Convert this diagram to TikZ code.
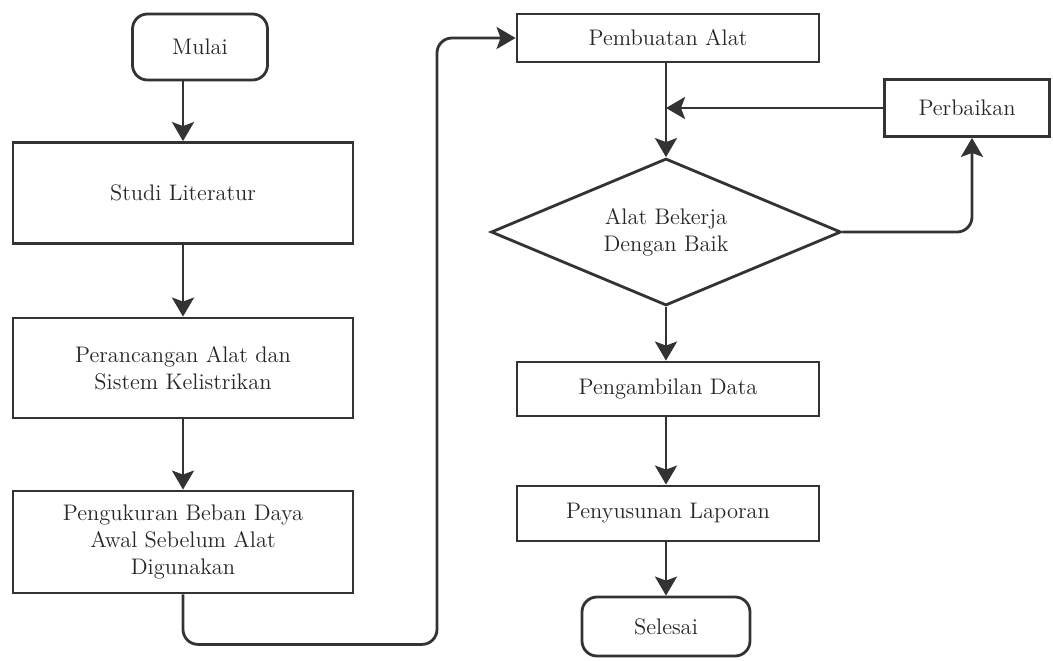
\documentclass[tikz,border=0pt]{standalone}
\usetikzlibrary{shapes.geometric, arrows.meta, positioning, calc}
\tikzset{
    startstop/.style={rectangle, rounded corners=0.3cm, text centered, draw=black!80, line width=1.6pt, text=black!85, font=\fontsize{12.8}{15.5}\selectfont},
    process/.style={rectangle, text centered, align=center, draw=black!80, line width=1.6pt, text=black!85, font=\fontsize{12.8}{15.5}\selectfont},
    decision/.style={diamond, aspect=2.35, inner sep=0pt, text centered, align=center, draw=black!80, line width=1.6pt, text=black!85, font=\fontsize{12.8}{15.5}\selectfont},
    arrow/.style={draw=black!80, line width=1.6pt, -{Stealth[length=0.38cm, width=0.44cm, inset=0.08cm]}}
}
\begin{document}
\begin{tikzpicture}
    \useasboundingbox (0,0) rectangle (21.06,-13.22);
        % Left column
        \node (mulai) [startstop, minimum width=2.7cm, minimum height=1.32cm] at (4.0, -0.94) {Mulai};
        \node (studi) [process, minimum width=6.8cm, minimum height=2.02cm] at (3.66, -3.86) {Studi Literatur};
        \node (rancang) [process, minimum width=6.8cm, minimum height=2.0cm] at (3.66, -7.36) {Perancangan Alat dan\\Sistem Kelistrikan};
        \node (ukur) [process, minimum width=6.8cm, minimum height=2.04cm] at (3.66, -10.84) {Pengukuran Beban Daya\\Awal Sebelum Alat\\Digunakan};

        % Right column
        \node (buat) [process, minimum width=6.04cm, minimum height=0.96cm] at (13.36, -0.76) {Pembuatan Alat};
        \node (perbaikan) [process, minimum width=3.3cm, minimum height=1.14cm] at (19.34, -2.16) {Perbaikan};
        \node (cek) [decision, minimum width=7.0cm, minimum height=2.94cm] at (13.32, -4.64) {Alat Bekerja\\Dengan Baik};
        \node (data) [process, minimum width=6.04cm, minimum height=1.08cm] at (13.36, -7.78) {Pengambilan Data};
        \node (lapor) [process, minimum width=6.04cm, minimum height=1.1cm] at (13.36, -10.27) {Penyusunan Laporan};
        \node (selesai) [startstop, minimum width=3.36cm, minimum height=1.18cm] at (13.32, -12.53) {Selesai};

        % Flows
        \draw[arrow] (studi.north |- mulai.south) -- (studi);
        \draw[arrow] (studi) -- (rancang);
        \draw[arrow] (rancang) -- (ukur);
        \draw[arrow, rounded corners=0.3cm] (ukur.south) -- ++(0,-1.0) -| (8.74, -0.76) -- (buat.west);

        \draw[arrow] (cek.north |- buat.south) -- (cek.north);
        \draw[arrow] (perbaikan.west) -- (cek.north |- perbaikan.west);
        \draw[arrow, rounded corners=0.3cm] (cek.east) -| (perbaikan.south -| 19.44, 0);
        \draw[arrow] (cek.south) -- (cek.south |- data.north);
        \draw[arrow] (cek.south |- data.south) -- (cek.south |- lapor.north);
        \draw[arrow] (cek.south |- lapor.south) -- (selesai);
    \end{tikzpicture}
\end{document}
